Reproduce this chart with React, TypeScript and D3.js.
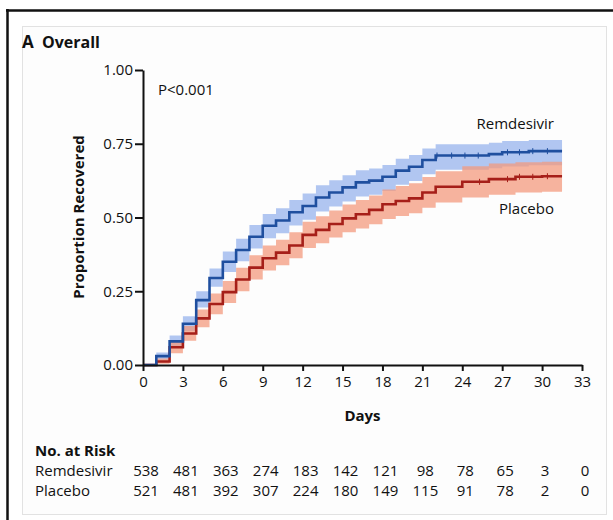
import React, { useEffect, useRef } from 'react';
import * as d3 from 'd3';

// step values, one per day (value holds from day d to d+1)
const days = [0, 1, 2, 3, 4, 5, 6, 7, 8, 9, 10, 11, 12, 13, 14, 15, 16, 17, 18, 19, 20, 21, 22, 23, 24, 25, 26, 27, 28, 29, 30, 31];
const lastDay = 31.5;

const remdesivir = [0, 0.03, 0.08, 0.14, 0.22, 0.295, 0.35, 0.39, 0.435, 0.472, 0.49, 0.518, 0.539, 0.568, 0.585, 0.602, 0.619, 0.625, 0.638, 0.659, 0.672, 0.695, 0.71, 0.71, 0.71, 0.71, 0.715, 0.721, 0.721, 0.725, 0.725, 0.725];
const remdesivirLow = [0, 0.018, 0.062, 0.115, 0.195, 0.265, 0.315, 0.352, 0.395, 0.43, 0.447, 0.473, 0.492, 0.52, 0.537, 0.554, 0.571, 0.577, 0.59, 0.611, 0.624, 0.647, 0.662, 0.662, 0.662, 0.662, 0.667, 0.673, 0.673, 0.677, 0.677, 0.677];
const remdesivirHigh = [0, 0.042, 0.1, 0.165, 0.25, 0.327, 0.385, 0.428, 0.475, 0.512, 0.531, 0.559, 0.581, 0.609, 0.626, 0.643, 0.66, 0.666, 0.678, 0.699, 0.712, 0.734, 0.748, 0.748, 0.748, 0.748, 0.753, 0.759, 0.759, 0.763, 0.763, 0.763];

const placebo = [0, 0.012, 0.06, 0.107, 0.158, 0.207, 0.247, 0.29, 0.33, 0.362, 0.381, 0.405, 0.441, 0.458, 0.478, 0.497, 0.511, 0.526, 0.545, 0.556, 0.565, 0.585, 0.604, 0.604, 0.621, 0.621, 0.63, 0.63, 0.638, 0.638, 0.64, 0.64];
const placeboLow = [0, 0.004, 0.04, 0.082, 0.128, 0.172, 0.21, 0.25, 0.29, 0.32, 0.338, 0.362, 0.397, 0.413, 0.432, 0.45, 0.463, 0.477, 0.495, 0.505, 0.514, 0.533, 0.551, 0.551, 0.568, 0.568, 0.577, 0.577, 0.585, 0.585, 0.587, 0.587];
const placeboHigh = [0, 0.022, 0.08, 0.132, 0.188, 0.242, 0.285, 0.33, 0.372, 0.405, 0.425, 0.45, 0.486, 0.504, 0.524, 0.544, 0.559, 0.575, 0.595, 0.607, 0.616, 0.637, 0.657, 0.657, 0.674, 0.674, 0.683, 0.683, 0.687, 0.687, 0.689, 0.689];

const remdesivirCensored = [22.1, 23.2, 24.2, 25.2, 27.4, 28.3, 29.3, 30.4];
const placeboCensored = [25.3, 27.4, 28.3, 29.3, 30.4];

const xTicks = [0, 3, 6, 9, 12, 15, 18, 21, 24, 27, 30, 33];
const yTicks = [0, 0.25, 0.5, 0.75, 1];

const riskDays = [0, 3, 6, 9, 12, 15, 18, 21, 24, 27, 30, 33];
const riskRemdesivir = [538, 481, 363, 274, 183, 142, 121, 98, 78, 65, 3, 0];
const riskPlacebo = [521, 481, 392, 307, 224, 180, 149, 115, 91, 78, 2, 0];

const FONT = '"Open Sans", Lato, sans-serif';

export default function App() {
  const ref = useRef<SVGSVGElement>(null);

  useEffect(() => {
    const svg = d3.select(ref.current);
    svg.selectAll('*').remove();

    const x = d3.scaleLinear().domain([0, 33]).range([143, 582]);
    const y = d3.scaleLinear().domain([0, 1]).range([365, 70]);

    // frame
    svg.append('rect').attr('x', 22.5).attr('y', 26.5).attr('width', 584).attr('height', 488)
      .attr('fill', '#fdfdfd').attr('stroke', '#e2e2e2');
    svg.append('line').attr('x1', 6).attr('x2', 613).attr('y1', 10.5).attr('y2', 10.5)
      .attr('stroke', '#111').attr('stroke-width', 2.5);
    svg.append('line').attr('x1', 7.5).attr('x2', 7.5).attr('y1', 9).attr('y2', 520)
      .attr('stroke', '#111').attr('stroke-width', 2.5);

    const idx = days.map((_, i) => i).concat([days.length - 1]);
    const tOf = (i: number, k: number) => (k === idx.length - 1 ? lastDay : days[i]);

    const band = (lo: number[], hi: number[]) =>
      d3.area<number>()
        .curve(d3.curveStepAfter)
        .x((i, k) => x(tOf(i, k)))
        .y0((i) => y(lo[i]))
        .y1((i) => y(hi[i]))(idx);

    const line = (v: number[]) =>
      d3.line<number>()
        .curve(d3.curveStepAfter)
        .x((i, k) => x(tOf(i, k)))
        .y((i) => y(v[i]))(idx);

    svg.append('path').attr('d', band(remdesivirLow, remdesivirHigh)).attr('fill', '#a9c0ef').attr('opacity', 0.9);
    svg.append('path').attr('d', band(placeboLow, placeboHigh)).attr('fill', '#f39a7e').attr('opacity', 0.75);

    const series = [
      { v: placebo, c: '#a61f19', cens: placeboCensored },
      { v: remdesivir, c: '#1f4f9f', cens: remdesivirCensored },
    ];
    series.forEach((s) => {
      svg.append('path').attr('d', line(s.v)).attr('fill', 'none')
        .attr('stroke', s.c).attr('stroke-width', 2.6);
      s.cens.forEach((t) => {
        const i = d3.bisectRight(days, t) - 1;
        svg.append('line').attr('x1', x(t)).attr('x2', x(t))
          .attr('y1', y(s.v[i]) - 3).attr('y2', y(s.v[i]) + 3)
          .attr('stroke', s.c).attr('stroke-width', 1);
      });
    });

    // axes
    const gy = svg.append('g').attr('transform', 'translate(143,0)')
      .call(d3.axisLeft(y).tickValues(yTicks).tickFormat(d3.format('.2f')).tickSize(8).tickSizeOuter(0).tickPadding(2));
    const gx = svg.append('g').attr('transform', 'translate(0,365)')
      .call(d3.axisBottom(x).tickValues(xTicks).tickSize(6).tickSizeOuter(0).tickPadding(5));
    [gx, gy].forEach((g) => {
      g.select('.domain').attr('stroke', '#111').attr('stroke-width', 2);
      g.selectAll('.tick line').attr('stroke', '#111').attr('stroke-width', 2);
      g.selectAll('.tick text').attr('fill', '#111').attr('font-size', 15).attr('font-weight', 500).attr('font-family', FONT);
    });

    const text = (s: string, tx: number, ty: number, size: number, weight: string, anchor = 'start') =>
      svg.append('text').attr('x', tx).attr('y', ty).attr('font-size', size).attr('font-weight', weight)
        .attr('font-family', FONT).attr('text-anchor', anchor).attr('fill', '#111').text(s);

    text('A', 22, 48, 17, 'bold');
    text('Overall', 42, 48, 16, 'bold');
    text('P<0.001', 158, 95, 15, '500');
    text('Remdesivir', 554, 129, 15, '500', 'end');
    text('Placebo', 554, 214, 15, '500', 'end');
    text('Days', x(16.5), 421, 15, 'bold', 'middle');
    svg.append('text').attr('transform', 'translate(84,217) rotate(-90)')
      .attr('text-anchor', 'middle').attr('font-size', 15).attr('font-weight', 'bold')
      .attr('font-family', FONT).attr('fill', '#111').text('Proportion Recovered');

    // number at risk
    text('No. at Risk', 35, 456, 15, 'bold');
    const rows = [
      { name: 'Remdesivir', v: riskRemdesivir, ty: 476 },
      { name: 'Placebo', v: riskPlacebo, ty: 496 },
    ];
    rows.forEach((r) => {
      text(r.name, 35, r.ty, 15, '500');
      r.v.forEach((n, i) => text(String(n), x(riskDays[i]) + 3, r.ty, 15, '500', 'middle'));
    });
  }, []);

  return (
    <svg ref={ref} width={613} height={520}
      style={{ position: 'absolute', left: 0, top: 0, background: '#fff' }} />
  );
}
